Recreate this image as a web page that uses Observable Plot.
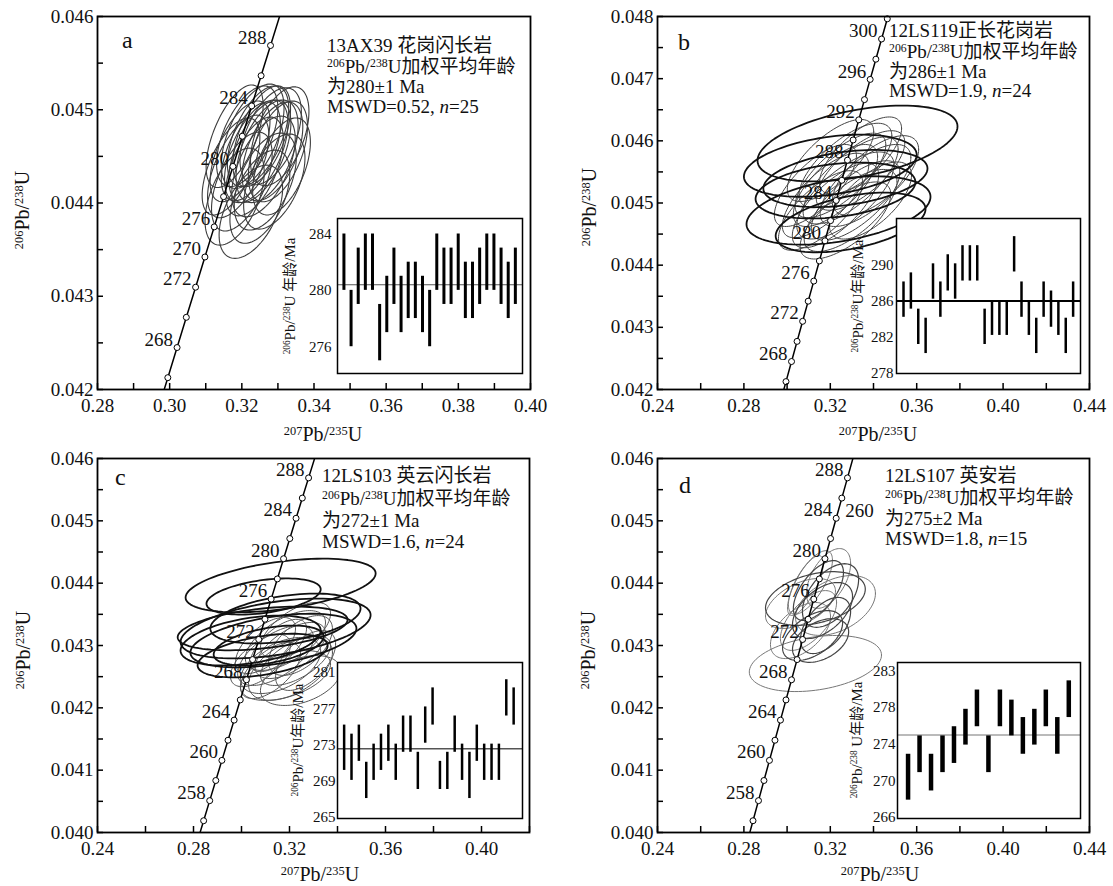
<!DOCTYPE html>
<html><head><meta charset="utf-8">
<script src="https://cdn.jsdelivr.net/npm/d3@7"></script>
<script src="https://cdn.jsdelivr.net/npm/@observablehq/plot@0.6"></script>
<style>
body{margin:0;background:#fff}
#fig{position:relative;width:1113px;height:886px;overflow:hidden;font-family:"Liberation Serif","Times New Roman",Tinos,"Noto Sans CJK SC",serif;color:#111}
#fig svg{position:absolute;overflow:visible}
.ln{position:absolute;font-size:19px;line-height:20px;height:20px;white-space:nowrap}
.let{position:absolute;font-size:24px;line-height:24px}
sup{font-size:0.62em;vertical-align:0.5em;line-height:0}
.xt{position:absolute;font-size:20px;line-height:20px;white-space:nowrap;transform:translate(-50%,-50%)}
.yt{position:absolute;font-size:20px;line-height:20px;white-space:nowrap;transform:translate(-50%,-50%) rotate(-90deg)}
.it{position:absolute;font-size:15px;line-height:15px;white-space:nowrap;transform:translate(-50%,-50%) rotate(-90deg)}
</style></head>
<body><div id="fig">
<div class="let" style="left:122px;top:28px">a</div>
<div class="let" style="left:678px;top:30px">b</div>
<div class="let" style="left:115px;top:465px">c</div>
<div class="let" style="left:679px;top:473px">d</div>

<div class="ln" style="left:327px;top:36px">13AX39 花岗闪长岩</div>
<div class="ln" style="left:327px;top:57px"><sup>206</sup>Pb/<sup>238</sup>U加权平均年龄</div>
<div class="ln" style="left:327px;top:77px">为280±1 Ma</div>
<div class="ln" style="left:327px;top:97px">MSWD=0.52, <i>n</i>=25</div>

<div class="ln" style="left:889px;top:21px">12LS119正长花岗岩</div>
<div class="ln" style="left:889px;top:42px"><sup>206</sup>Pb/<sup>238</sup>U加权平均年龄</div>
<div class="ln" style="left:889px;top:62px">为286±1 Ma</div>
<div class="ln" style="left:889px;top:81px">MSWD=1.9, <i>n</i>=24</div>

<div class="ln" style="left:322px;top:466px">12LS103 英云闪长岩</div>
<div class="ln" style="left:322px;top:489px"><sup>206</sup>Pb/<sup>238</sup>U加权平均年龄</div>
<div class="ln" style="left:322px;top:511px">为272±1 Ma</div>
<div class="ln" style="left:322px;top:532px">MSWD=1.6, <i>n</i>=24</div>

<div class="ln" style="left:885px;top:466px">12LS107 英安岩</div>
<div class="ln" style="left:885px;top:488px"><sup>206</sup>Pb/<sup>238</sup>U加权平均年龄</div>
<div class="ln" style="left:885px;top:509px">为275±2 Ma</div>
<div class="ln" style="left:885px;top:529px">MSWD=1.8, <i>n</i>=15</div>

<div class="xt" style="left:323px;top:434px"><sup>207</sup>Pb/<sup>235</sup>U</div>
<div class="xt" style="left:878px;top:434px"><sup>207</sup>Pb/<sup>235</sup>U</div>
<div class="xt" style="left:320px;top:874px"><sup>207</sup>Pb/<sup>235</sup>U</div>
<div class="xt" style="left:880px;top:874px"><sup>207</sup>Pb/<sup>235</sup>U</div>
<div class="yt" style="left:22px;top:210px"><sup>206</sup>Pb/<sup>238</sup>U</div>
<div class="yt" style="left:589px;top:207px"><sup>206</sup>Pb/<sup>238</sup>U</div>
<div class="yt" style="left:23px;top:650px"><sup>206</sup>Pb/<sup>238</sup>U</div>
<div class="yt" style="left:588px;top:650px"><sup>206</sup>Pb/<sup>238</sup>U</div>
</div>
<script>
const SERIF = "'Liberation Serif','Times New Roman',Tinos,serif";
// ---------- concordia (ages in Ma, 207Pb/235U, 206Pb/238U) ----------
const concAges = [250,252,254,256,258,260,262,264,266,268,270,272,274,276,278,280,282,284,286,288,290,292,294,296,298,300,302,304,306];
const concX = [0.279171,0.281694,0.284220,0.286753,0.289290,0.291831,0.294378,0.296931,0.299488,0.302050,0.304617,0.307189,0.309767,0.312349,0.314937,0.317529,0.320127,0.322730,0.325338,0.327951,0.330569,0.333192,0.335821,0.338455,0.341094,0.343738,0.346387,0.349042,0.351701];
const concY = [0.039543,0.039866,0.040189,0.040511,0.040834,0.041157,0.041480,0.041803,0.042127,0.042450,0.042774,0.043097,0.043421,0.043744,0.044068,0.044392,0.044716,0.045041,0.045365,0.045689,0.046014,0.046338,0.046663,0.046988,0.047313,0.047638,0.047963,0.048288,0.048613];

// ---------- concordia age labels ----------
const aLabelAges = [288,284,280,276,274,272,268];
const aLabelTexts = ["288","284","280","276","270","272","268"];
const bLabelAges = [300,296,292,288,284,280,276,272,268];
const bLabelTexts = ["300","296","292","288","284","280","276","272","268"];
const cLabelAges = [288,284,280,276,272,268,264,260,256];
const cLabelTexts = ["288","284","280","276","272","268","264","260","258"];
const dLabelAges = [288,284,280,276,272,268,264,260,256];
const dLabelTexts = ["288","284","280","276","272","268","264","260","258"];
const dExtraLabelAges = [284];
const dExtraLabelTexts = ["260"];

// ---------- axes ticks ----------
const aXTicks = [0.28,0.29,0.30,0.31,0.32,0.33,0.34,0.35,0.36,0.37,0.38,0.39,0.40];
const aXLabels = [0.28,0.30,0.32,0.34,0.36,0.38,0.40];
const aYTicks = [0.042,0.0425,0.043,0.0435,0.044,0.0445,0.045,0.0455,0.046];
const aYLabels = [0.042,0.043,0.044,0.045,0.046];
const bXTicks = [0.24,0.26,0.28,0.30,0.32,0.34,0.36,0.38,0.40,0.42,0.44];
const bXLabels = [0.24,0.28,0.32,0.36,0.40,0.44];
const bYTicks = [0.042,0.0425,0.043,0.0435,0.044,0.0445,0.045,0.0455,0.046,0.0465,0.047,0.0475,0.048];
const bYLabels = [0.042,0.043,0.044,0.045,0.046,0.047,0.048];
const cXTicks = [0.24,0.26,0.28,0.30,0.32,0.34,0.36,0.38,0.40,0.42];
const cXLabels = [0.24,0.28,0.32,0.36,0.40];
const cdYTicks = [0.040,0.0405,0.041,0.0415,0.042,0.0425,0.043,0.0435,0.044,0.0445,0.045,0.0455,0.046];
const cdYLabels = [0.040,0.041,0.042,0.043,0.044,0.045,0.046];
const dXTicks = [0.24,0.26,0.28,0.30,0.32,0.34,0.36,0.38,0.40,0.42,0.44];
const dXLabels = [0.24,0.28,0.32,0.36,0.40,0.44];

// ---------- ellipses: [x centre, y centre, x half-extent, y half-extent, correlation] ----------
const aGreyEllipses = [
 [0.3215,0.044716,0.0085,0.00054,0.55],[0.3180,0.044068,0.0082,0.00052,0.5],[0.3240,0.044554,0.0088,0.00055,0.55],
 [0.3280,0.044716,0.0085,0.00052,0.5],[0.3255,0.044716,0.0080,0.00054,0.55],[0.3225,0.043906,0.0088,0.00050,0.5],
 [0.3200,0.044230,0.0084,0.00053,0.55],[0.3300,0.044554,0.0082,0.00054,0.5],[0.3265,0.044230,0.0086,0.00052,0.5],
 [0.3190,0.044392,0.0085,0.00055,0.6],[0.3235,0.044392,0.0080,0.00053,0.55],[0.3290,0.044230,0.0085,0.00051,0.5],
 [0.3250,0.044068,0.0083,0.00050,0.5],[0.3230,0.044716,0.0087,0.00056,0.55],[0.3195,0.044554,0.0083,0.00054,0.6],
 [0.3270,0.044554,0.0086,0.00055,0.5],[0.3305,0.044716,0.0081,0.00053,0.5],[0.3260,0.044392,0.0088,0.00054,0.55],
 [0.3310,0.044392,0.0080,0.00052,0.5],[0.3225,0.044554,0.0082,0.00053,0.55],[0.3180,0.044716,0.0079,0.00055,0.6],
 [0.3245,0.044716,0.0085,0.00054,0.55],[0.3285,0.044554,0.0084,0.00053,0.5],[0.3170,0.044392,0.0080,0.00052,0.6],
 [0.3250,0.044554,0.0086,0.00055,0.55]];
const bGreyEllipses = [
 [0.3201,0.045684,0.0200,0.00066,0.7],[0.3270,0.045603,0.0215,0.00068,0.7],[0.3340,0.045523,0.0205,0.00064,0.7],
 [0.3294,0.045362,0.0220,0.00070,0.72],[0.3224,0.045282,0.0195,0.00066,0.7],[0.3363,0.045282,0.0210,0.00066,0.68],
 [0.3178,0.045121,0.0200,0.00068,0.72],[0.3270,0.045121,0.0225,0.00070,0.7],[0.3317,0.045040,0.0205,0.00064,0.7],
 [0.3386,0.045040,0.0190,0.00062,0.65],[0.3247,0.045443,0.0210,0.00068,0.72],[0.3155,0.044880,0.0195,0.00064,0.7],
 [0.3294,0.044880,0.0215,0.00066,0.7],[0.3224,0.044960,0.0200,0.00068,0.72],[0.3340,0.045764,0.0190,0.00062,0.7],
 [0.3409,0.045443,0.0200,0.00064,0.65],[0.3131,0.045282,0.0190,0.00066,0.72],[0.3270,0.044719,0.0210,0.00062,0.68]];
const bBlackEllipses = [
 [0.3326,0.045957,0.0463,0.00061,0.45],[0.3200,0.045600,0.0400,0.00050,0.35],[0.3270,0.045394,0.0380,0.00046,0.35],
 [0.3238,0.044880,0.0426,0.00055,0.4],[0.3224,0.045201,0.0370,0.00045,0.3],[0.3294,0.044687,0.0347,0.00048,0.45]];
const cBlackEllipses = [
 [0.3163,0.043963,0.0396,0.00043,0.45],[0.3092,0.043786,0.0238,0.00029,0.4],[0.3142,0.043273,0.0396,0.00048,0.45],
 [0.3133,0.043080,0.0346,0.00043,0.45],[0.3088,0.043273,0.0354,0.00035,0.4],[0.3088,0.042839,0.0271,0.00035,0.45],
 [0.3183,0.043433,0.0313,0.00040,0.4],[0.3113,0.043000,0.0229,0.00032,0.45],[0.3038,0.043080,0.0292,0.00040,0.4]];
const cGreyEllipses = [
 [0.3183,0.043080,0.0167,0.00048,0.6],[0.3204,0.042920,0.0146,0.00045,0.6],[0.3142,0.042839,0.0158,0.00048,0.6],
 [0.3246,0.043000,0.0133,0.00048,0.55],[0.3163,0.042679,0.0167,0.00045,0.5],[0.3225,0.042759,0.0146,0.00040,0.6],
 [0.3121,0.042599,0.0125,0.00045,0.6],[0.3267,0.042759,0.0125,0.00048,0.55],[0.3183,0.042519,0.0188,0.00040,0.45],
 [0.3079,0.042759,0.0125,0.00042,0.6],[0.3225,0.043241,0.0146,0.00045,0.6],[0.3154,0.043000,0.0117,0.00042,0.65],
 [0.3204,0.042631,0.0175,0.00051,0.5],[0.3100,0.043000,0.0125,0.00045,0.6],[0.3246,0.042438,0.0167,0.00040,0.4]];
const dDarkEllipses = [
 [0.3145,0.043882,0.0116,0.00048,0.6],[0.3201,0.043802,0.0130,0.00051,0.5],[0.3131,0.043754,0.0231,0.00043,0.35],
 [0.3164,0.043561,0.0139,0.00045,0.5],[0.3178,0.043321,0.0116,0.00045,0.5],[0.3118,0.043160,0.0139,0.00040,0.5],
 [0.3155,0.043080,0.0130,0.00035,0.4]];
const dGreyEllipses = [
 [0.3108,0.044011,0.0102,0.00051,0.7],[0.3085,0.043962,0.0083,0.00048,0.75],[0.3062,0.043674,0.0162,0.00040,0.5],
 [0.3099,0.043401,0.0130,0.00048,0.6],[0.3062,0.043240,0.0139,0.00045,0.5],[0.3131,0.042711,0.0306,0.00045,0.3],
 [0.3192,0.044075,0.0102,0.00048,0.5],[0.3224,0.043642,0.0185,0.00048,0.4]];

// ---------- weighted-mean insets: ages (Ma) ----------
const aBarLow  = [280,276,279,280,280,275,277,279,277,278,278,277,276,280,279,279,280,278,278,279,280,280,279,278,279];
const aBarHigh = [284,280,283,284,284,279,281,283,281,282,282,281,280,284,283,283,284,282,282,283,284,284,283,282,283];
const aMean = 280.4;
const aInsetTicks = [276,280,284];
const aInsetLabels = ["276","280","284"];
const bBarLow  = [284.2,285.1,281.2,280.2,286.2,284.2,287.1,286.2,288.2,288.2,288.2,281.2,282.2,282.2,282.2,289.2,284.2,282.2,280.2,284.2,283.1,282.2,280.2,284.2];
const bBarHigh = [288.1,289.1,285.1,284.1,290.1,288.1,291.1,290.1,292.1,292.1,292.1,285.1,286.0,286.0,286.0,293.1,288.1,286.0,284.1,288.1,287.1,286.0,284.1,288.1];
const bMean = 286;
const bInsetTicks = [278,282,286,290];
const bInsetLabels = ["278","282","286","290"];
const cBarLow  = [270.2,269.1,271.2,267.1,269.1,270.2,271.2,269.1,272.2,272.2,268.1,273.2,275.2,268.1,268.1,272.2,269.1,267.1,271.2,269.1,269.1,269.1,276.2,275.2];
const cBarHigh = [275.2,274.2,275.2,271.1,273.1,274.2,275.2,273.1,276.2,276.2,272.2,277.2,279.3,271.2,272.2,276.2,273.1,272.2,275.2,273.1,273.1,273.1,280.2,279.3];
const cMean = 272.6;
const cInsetTicks = [265,269,273,277,281];
const cInsetLabels = ["265","269","273","277","281"];
const dBarLow  = [267.9,270.9,268.9,270.9,271.9,273.9,275.9,270.9,275.9,274.9,272.9,273.9,275.9,272.9,276.9];
const dBarHigh = [272.9,274.9,272.9,274.9,275.9,277.8,279.9,274.9,279.9,278.8,276.9,277.8,279.9,276.9,280.9];
const dMean = 275;
const dInsetTicks = [266,270,274,278,282];
const dInsetLabels = ["266","270","274","278","283"];

// ---------- builders ----------
const fig = document.getElementById("fig");
const conc = concAges.map((a,i)=>({age:a, x:concX[i], y:concY[i]}));
const concAt = age => conc.find(d=>d.age===age);

function ellipsePoints(list){
  const pts=[];
  list.forEach((e,id)=>{
    const [cx,cy,sx,sy,r]=e, q=Math.sqrt(1-r*r);
    for(let k=0;k<=96;k++){
      const t=2*Math.PI*k/96;
      pts.push({id, x:cx+sx*Math.cos(t), y:cy+sy*(r*Math.cos(t)+q*Math.sin(t))});
    }
  });
  return pts;
}

function place(svg,left,top){svg.style.left=left+"px";svg.style.top=top+"px";fig.appendChild(svg);}

function panel(o){
  const fw=o.width-o.ml-o.mr, fh=o.height-o.mt-o.mb;
  const [x0,x1]=o.xd,[y0,y1]=o.yd;
  const tl=6, tly=(y1-y0)*tl/fh, tlx=(x1-x0)*tl/fw;
  const labels=o.labelAges.map((a,i)=>({...concAt(a), text:o.labelTexts[i]}));
  const dots=conc.filter(d=>d.x>=x0&&d.x<=x1&&d.y>=y0&&d.y<=y1);
  const marks=[];
  (o.ellipses||[]).forEach(g=>marks.push(Plot.line(ellipsePoints(g.list),{x:"x",y:"y",z:"id",stroke:g.stroke,strokeWidth:g.sw,clip:true})));
  marks.push(Plot.line(conc,{x:"x",y:"y",stroke:"#000",strokeWidth:1.5,clip:true}));
  marks.push(Plot.dot(dots,{x:"x",y:"y",r:3,fill:"white",stroke:"#000",strokeWidth:1}));
  marks.push(Plot.text(labels,{x:"x",y:"y",text:"text",textAnchor:"end",dx:-4,dy:-8,fontSize:19,fontFamily:SERIF,fill:"#111"}));
  if(o.extra){
    const ex=o.extra.ages.map((a,i)=>({...concAt(a),text:o.extra.texts[i]}));
    marks.push(Plot.text(ex,{x:"x",y:"y",text:"text",textAnchor:"start",dx:9,dy:-7,fontSize:19,fontFamily:SERIF,fill:"#111"}));
  }
  marks.push(Plot.ruleX(o.xTicks,{x:d=>d,y1:y0,y2:y0+tly,stroke:"#000",strokeWidth:1.5}));
  marks.push(Plot.ruleY(o.yTicks,{y:d=>d,x1:x0,x2:x0+tlx,stroke:"#000",strokeWidth:1.5}));
  marks.push(Plot.frame({stroke:"#000",strokeWidth:1.8}));
  const svg=Plot.plot({
    width:o.width,height:o.height,marginLeft:o.ml,marginRight:o.mr,marginTop:o.mt,marginBottom:o.mb,
    x:{domain:o.xd,ticks:o.xLabels,tickSize:0,tickPadding:9,tickFormat:d3.format(".2f"),label:null},
    y:{domain:o.yd,ticks:o.yLabels,tickSize:0,tickPadding:4,tickFormat:d3.format(".3f"),label:null},
    style:{fontFamily:SERIF,fontSize:"19px",background:"transparent",color:"#111",overflow:"visible"},
    marks
  });
  svg.setAttribute("font-family",SERIF);
  svg.querySelectorAll("text").forEach(t=>{t.style.fontFamily=SERIF;});
  place(svg,o.left,o.top);
}

function inset(o){
  const bars=o.low.map((l,i)=>({i:i+1,lo:l,hi:o.high[i]}));
  const svg=Plot.plot({
    width:o.fw+70,height:o.fh+20,marginLeft:60,marginRight:10,marginTop:10,marginBottom:10,
    x:{domain:o.xd,axis:null},
    y:{domain:o.yd,ticks:o.ticks,tickSize:0,tickPadding:o.pad,tickFormat:d=>o.tickLabels[o.ticks.indexOf(d)],label:null},
    style:{fontFamily:SERIF,fontSize:"15px",background:"transparent",color:"#111",overflow:"visible"},
    marks:[
      Plot.frame({fill:"white",stroke:"none"}),
      Plot.ruleY([o.mean],{y:d=>d,stroke:o.meanStroke,strokeWidth:o.meanWidth}),
      Plot.ruleX(bars,{x:"i",y1:"lo",y2:"hi",stroke:"#000",strokeWidth:o.barWidth}),
      Plot.frame({stroke:"#000",strokeWidth:1.5,fill:"none"})
    ]
  });
  svg.querySelectorAll("text").forEach(t=>{t.style.fontFamily=SERIF;});
  place(svg,o.fx-60,o.fy-10);
  const lab=document.createElement("div");
  lab.className="it";
  lab.innerHTML=o.ylabel;
  lab.style.left=o.labX+"px"; lab.style.top=(o.fy+o.fh/2)+"px";
  fig.appendChild(lab);
}

// ---------- panels ----------
panel({left:0,top:0,width:556,height:440,ml:97,mr:26,mt:16,mb:51,xd:[0.28,0.40],yd:[0.042,0.046],
  xTicks:aXTicks,xLabels:aXLabels,yTicks:aYTicks,yLabels:aYLabels,labelAges:aLabelAges,labelTexts:aLabelTexts,
  ellipses:[{list:aGreyEllipses,stroke:"#3c3c3c",sw:1.1}]});
panel({left:556,top:0,width:557,height:440,ml:101,mr:24,mt:16,mb:51,xd:[0.24,0.44],yd:[0.042,0.048],
  xTicks:bXTicks,xLabels:bXLabels,yTicks:bYTicks,yLabels:bYLabels,labelAges:bLabelAges,labelTexts:bLabelTexts,
  ellipses:[{list:bGreyEllipses,stroke:"#444",sw:1},{list:bBlackEllipses,stroke:"#111",sw:1.8}]});
panel({left:0,top:440,width:556,height:446,ml:97,mr:27,mt:18,mb:54,xd:[0.24,0.42],yd:[0.040,0.046],
  xTicks:cXTicks,xLabels:cXLabels,yTicks:cdYTicks,yLabels:cdYLabels,labelAges:cLabelAges,labelTexts:cLabelTexts,
  ellipses:[{list:cGreyEllipses,stroke:"#555",sw:1},{list:cBlackEllipses,stroke:"#111",sw:1.8}]});
panel({left:556,top:440,width:557,height:446,ml:101,mr:24,mt:18,mb:54,xd:[0.24,0.44],yd:[0.040,0.046],
  xTicks:dXTicks,xLabels:dXLabels,yTicks:cdYTicks,yLabels:cdYLabels,labelAges:dLabelAges,labelTexts:dLabelTexts,
  extra:{ages:dExtraLabelAges,texts:dExtraLabelTexts},
  ellipses:[{list:dGreyEllipses,stroke:"#777",sw:1},{list:dDarkEllipses,stroke:"#444",sw:1.2}]});

// ---------- insets ----------
inset({fx:337,fy:218,fw:185,fh:155,xd:[0.1,26],yd:[274.1,285.1],low:aBarLow,high:aBarHigh,mean:aMean,
  ticks:aInsetTicks,tickLabels:aInsetLabels,pad:6,barWidth:3,meanStroke:"#555",meanWidth:1.2,
  labX:290,ylabel:"<sup>206</sup>Pb/<sup>238</sup>U 年龄/Ma"});
inset({fx:896,fy:218,fw:184,fh:155,xd:[0.05,25],yd:[278,295.1],low:bBarLow,high:bBarHigh,mean:bMean,
  ticks:bInsetTicks,tickLabels:bInsetLabels,pad:3,barWidth:2.5,meanStroke:"#000",meanWidth:2,
  labX:858,ylabel:"<sup>206</sup>Pb/<sup>238</sup>U年龄/Ma"});
inset({fx:337,fy:662,fw:185,fh:156,xd:[0.1,25.2],yd:[264.9,282.1],low:cBarLow,high:cBarHigh,mean:cMean,
  ticks:cInsetTicks,tickLabels:cInsetLabels,pad:2,barWidth:2.5,meanStroke:"#555",meanWidth:1.5,
  labX:298,ylabel:"<sup>206</sup>Pb/<sup>238</sup>U年龄/Ma"});
inset({fx:897,fy:662,fw:183,fh:156,xd:[0.08,16.02],yd:[265.9,282.9],low:dBarLow,high:dBarHigh,mean:dMean,
  ticks:dInsetTicks,tickLabels:dInsetLabels,pad:2,barWidth:4.5,meanStroke:"#777",meanWidth:1.2,
  labX:857,ylabel:"<sup>206</sup>Pb/<sup>238</sup> U年龄/Ma"});
</script>
</body></html>
